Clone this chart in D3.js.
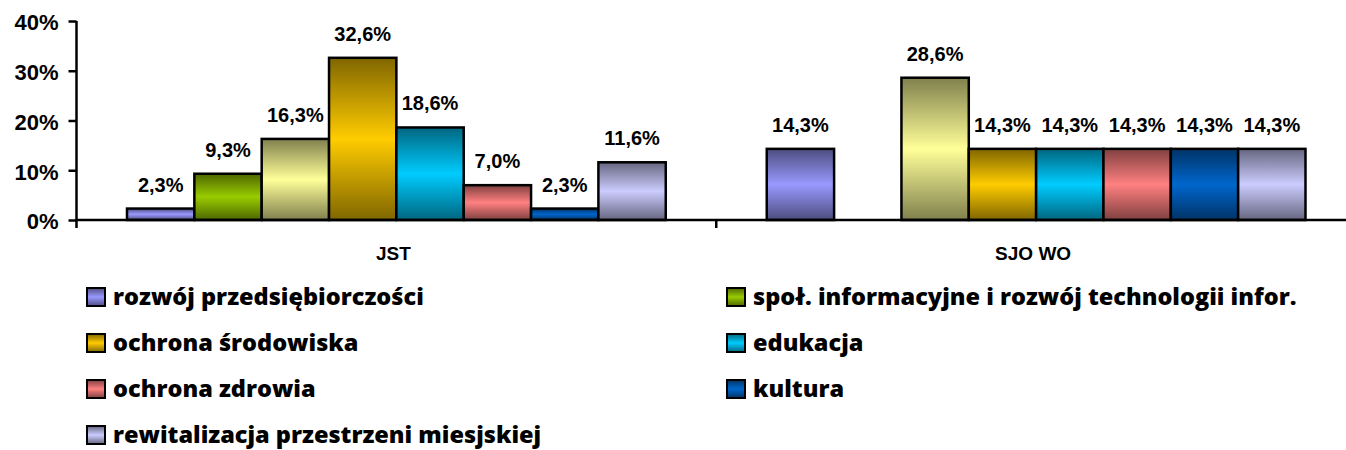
<!DOCTYPE html>
<html>
<head>
<meta charset="utf-8">
<script src="https://cdn.jsdelivr.net/npm/d3@7"></script>
<style>
  html, body { margin: 0; padding: 0; background: #fff; }
  svg { display: block; }
</style>
</head>
<body>
<svg id="chart" width="1346" height="450"></svg>
<script>
// ---- data ----
const categories = ["JST", "SJO WO"];
const seriesNames = [
  "rozwój przedsiębiorczości",
  "społ. informacyjne i rozwój technologii infor.",
  null, // series without legend entry in the original
  "ochrona środowiska",
  "edukacja",
  "ochrona zdrowia",
  "kultura",
  "rewitalizacja przestrzeni miesjskiej"
];
const seriesColors = ["#9999FF", "#99CC00", "#FFFF99", "#FFCC00", "#00CCFF", "#FF8080", "#0066CC", "#CCCCFF"];
const valuesJST   = [2.3, 9.3, 16.3, 32.6, 18.6, 7.0, 2.3, 11.6];
const valuesSJOWO = [14.3, 0, 28.6, 14.3, 14.3, 14.3, 14.3, 14.3];
const yTicks = [0, 10, 20, 30, 40];
const legendOrder = [0, 1, 3, 4, 5, 6, 7];

const values = [valuesJST, valuesSJOWO];

const svg = d3.select("#chart");
const plotLeft = 76.5, plotRight = 1356, plotTop = 21, plotBottom = 220;

const x0 = d3.scaleBand().domain(categories).range([plotLeft, plotRight]).padding(0);
const x1 = d3.scaleBand().domain(d3.range(seriesNames.length)).range([0, x0.bandwidth()]).paddingInner(0).paddingOuter(0.75);
const y = d3.scaleLinear().domain([0, 40]).range([plotBottom, plotTop]);

// gradients
const defs = svg.append("defs");
seriesColors.forEach((c, i) => {
  const dark = d3.interpolateRgb(c, "#000")(0.5);
  const g = defs.append("linearGradient").attr("id", "g" + i)
    .attr("x1", 0).attr("y1", 0).attr("x2", 0).attr("y2", 1);
  g.append("stop").attr("offset", "0%").attr("stop-color", dark);
  g.append("stop").attr("offset", "50%").attr("stop-color", c);
  g.append("stop").attr("offset", "100%").attr("stop-color", dark);
});

// bars
const groups = svg.append("g").selectAll("g").data(categories).join("g")
  .attr("transform", d => `translate(${x0(d)},0)`);

groups.each(function(cat, ci) {
  const g = d3.select(this);
  const data = values[ci].map((v, si) => ({v, si}));
  g.selectAll("rect").data(data.filter(d => d.v > 0)).join("rect")
    .attr("x", d => x1(d.si))
    .attr("y", d => y(d.v))
    .attr("width", x1.bandwidth())
    .attr("height", d => y(0) - y(d.v))
    .attr("fill", d => `url(#g${d.si})`)
    .attr("stroke", "#000")
    .attr("stroke-width", 2.5);
  g.selectAll("text").data(data.filter(d => d.v > 0)).join("text")
    .attr("x", d => x1(d.si) + x1.bandwidth() / 2)
    .attr("y", d => y(d.v) - 17)
    .attr("text-anchor", "middle")
    .attr("font-family", "Liberation Sans, Arial, sans-serif")
    .attr("font-weight", "bold")
    .attr("font-size", 20)
    .text(d => d.v.toFixed(1).replace(".", ",") + "%");
});

// y axis
const yAxis = d3.axisLeft(y).tickValues(yTicks).tickSize(8).tickPadding(10)
  .tickFormat(d => d + "%");
const ya = svg.append("g").attr("transform", `translate(${plotLeft},0)`).call(yAxis);
ya.select(".domain").attr("d", `M0,${plotTop}V${plotBottom + 8}`).attr("stroke", "#000").attr("stroke-width", 2.5);
ya.selectAll(".tick line").attr("stroke", "#000").attr("stroke-width", 2.5);
ya.selectAll(".tick text").attr("font-family", "Liberation Sans, Arial, sans-serif")
  .attr("font-weight", "bold").attr("font-size", 22).attr("fill", "#000").attr("dy", "0.4em");

// x axis
const xa = svg.append("g").attr("transform", `translate(0,${plotBottom})`);
xa.append("line").attr("x1", plotLeft).attr("x2", 1346).attr("y1", 0).attr("y2", 0)
  .attr("stroke", "#000").attr("stroke-width", 2.5);
xa.selectAll("line.t").data(categories.slice(1)).join("line").attr("class", "t")
  .attr("x1", d => x0(d)).attr("x2", d => x0(d)).attr("y1", 0).attr("y2", 8)
  .attr("stroke", "#000").attr("stroke-width", 2.5);
xa.selectAll("text").data(categories).join("text")
  .attr("x", d => x0(d) + x0.bandwidth() / 2 - 3)
  .attr("y", 40)
  .attr("text-anchor", "middle")
  .attr("font-family", "Liberation Sans, Arial, sans-serif")
  .attr("font-weight", "bold")
  .attr("font-size", 19)
  .text(d => d);

// legend
const legCols = [87, 727];
const legRow0 = 297, legRowStep = 46;
const leg = svg.append("g").selectAll("g").data(legendOrder).join("g")
  .attr("transform", (si, i) => `translate(${legCols[i % 2]},${legRow0 + Math.floor(i / 2) * legRowStep})`);
leg.append("rect").attr("x", 0).attr("y", -9).attr("width", 18).attr("height", 18)
  .attr("fill", si => `url(#g${si})`).attr("stroke", "#000").attr("stroke-width", 2);
leg.append("text").attr("x", 26).attr("y", 0).attr("dy", "0.34em")
  .attr("font-family", "Open Sans, sans-serif").attr("font-weight", 800).attr("font-size", 23.5)
  .text(si => seriesNames[si]);
</script>
</body>
</html>
